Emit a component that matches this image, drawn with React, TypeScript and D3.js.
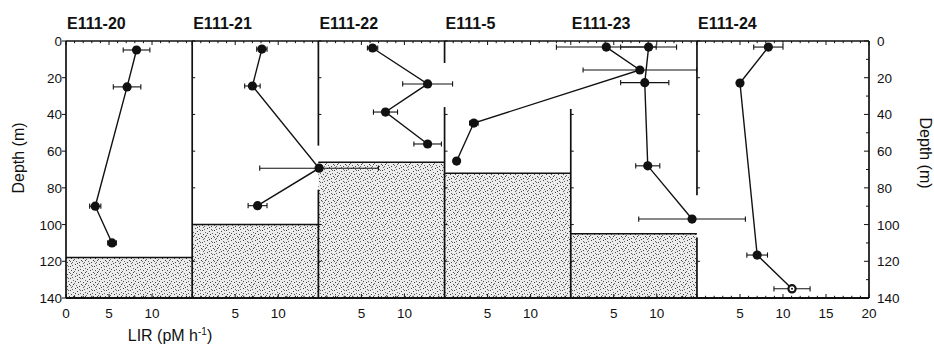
import React from 'react';
import * as d3 from 'd3';

// ---- data ----
const panelNames = ['E111-20', 'E111-21', 'E111-22', 'E111-5', 'E111-23', 'E111-24'];
const panelSpan = [14.67, 14.67, 14.67, 14.67, 14.67, 20]; // LIR units covered by each panel
const sedimentDepth: (number | null)[] = [118, 100, 66, 72, 105, null];
// depth ranges where each panel's left axis line is visible
const axisSegments = [
  [[0, 140]],
  [[0, 140]],
  [[0, 57], [81, 140]],
  [[0, 12], [36, 140]],
  [[37, 140]],
  [[0, 84], [107, 140]],
];
const depthTicks = [0, 20, 40, 60, 80, 100, 120, 140];
const lirTickLabels = [[0, 5, 10], [5, 10], [5, 10], [5, 10], [5, 10], [5, 10, 15, 20]];

const e20Depth = [4.9, 25, 90, 110];
const e20Lir = [8.2, 7.1, 3.4, 5.35];
const e20Err = [1.55, 1.6, 0.65, 0.5];

const e21Depth = [4.4, 24.5, 69.3, 89.7];
const e21Lir = [8.1, 7.0, 14.75, 7.6];
const e21Err = [0.6, 0.9, 6.9, 1.1];

const e22Depth = [3.8, 23.4, 38.7, 56.1];
const e22Lir = [6.3, 12.7, 7.8, 12.7];
const e22Err = [0.6, 2.9, 1.4, 1.6];

const e5Depth = [3.3, 15.8, 44.7, 65.4];
const e5Lir = [18.8, 22.7, 3.4, 1.4];
const e5Err = [5.8, 6.6, 0.5, 0];

const e23Depth = [3.3, 22.7, 68, 97];
const e23Lir = [9.05, 8.6, 8.95, 14.1];
const e23Err = [3.25, 2.8, 1.4, 6.2];

const e24Depth = [3.3, 22.9, 116.6, 135];
const e24Lir = [8.3, 5.0, 7.0, 11.05];
const e24Err = [1.7, 0, 1.2, 2.1];
const e24Open = [false, false, false, true];

const series = [
  { panel: 0, depth: e20Depth, lir: e20Lir, err: e20Err, open: [] as boolean[] },
  { panel: 1, depth: e21Depth, lir: e21Lir, err: e21Err, open: [] as boolean[] },
  { panel: 2, depth: e22Depth, lir: e22Lir, err: e22Err, open: [] as boolean[] },
  { panel: 3, depth: e5Depth, lir: e5Lir, err: e5Err, open: [] as boolean[] },
  { panel: 4, depth: e23Depth, lir: e23Lir, err: e23Err, open: [] as boolean[] },
  { panel: 5, depth: e24Depth, lir: e24Lir, err: e24Err, open: e24Open },
];

const W = 934;
const H = 345;
const FONT = '"Liberation Sans", Arial, Helvetica, sans-serif';

// stipple texture dot positions within a 12x12 tile (decorative)
const stippleDots = [
  [0, 1], [3, 0], [7, 1], [10, 2], [1, 4], [5, 3], [8, 5], [11, 6], [2, 7], [6, 6],
  [4, 9], [9, 8], [0, 10], [7, 10], [11, 11], [3, 5], [10, 9], [5, 11], [8, 2], [1, 8],
];

export default function App() {
  const total = d3.sum(panelSpan);
  const x = d3.scaleLinear().domain([0, total]).range([66, 869]);
  const y = d3.scaleLinear().domain([0, 140]).range([41, 298]);
  const offsets = panelSpan.map((_, i) => d3.sum(panelSpan.slice(0, i)));
  const px = (panel: number, v: number) => x(offsets[panel] + v);

  const line = d3
    .line<[number, number]>()
    .x((d) => d[0])
    .y((d) => d[1]);

  const els: React.ReactNode[] = [];

  // sediment shading
  sedimentDepth.forEach((d, i) => {
    if (d == null) return;
    const x0 = px(i, 0);
    const x1 = px(i, panelSpan[i]);
    els.push(
      <g key={`sed${i}`}>
        <rect x={x0} y={y(d)} width={x1 - x0} height={y(140) - y(d)} fill="url(#stip)" />
        <line x1={x0} x2={x1} y1={y(d)} y2={y(d)} stroke="#111" strokeWidth={1.5} />
      </g>
    );
  });

  // top & bottom minor/major ticks
  panelSpan.forEach((span, i) => {
    for (let v = 0; v <= Math.floor(span); v++) {
      const xx = px(i, v);
      const len = v % 5 === 0 ? 4 : 2.2;
      els.push(
        <line key={`bt${i}-${v}`} x1={xx} x2={xx} y1={y(140)} y2={y(140) - len} stroke="#111" strokeWidth={1} />,
        <line key={`tt${i}-${v}`} x1={xx} x2={xx} y1={y(0)} y2={y(0) + len} stroke="#111" strokeWidth={1} />
      );
    }
    lirTickLabels[i].forEach((v) => {
      els.push(
        <text key={`bl${i}-${v}`} x={px(i, v)} y={318} textAnchor="middle" fontSize={13.5} fontFamily={FONT} fill="#111">
          {v}
        </text>
      );
    });
  });

  // panel left axes
  axisSegments.forEach((segs, i) => {
    const xx = px(i, 0);
    segs.forEach(([a, b], k) => {
      els.push(
        <line key={`ax${i}-${k}`} x1={xx} x2={xx} y1={y(a)} y2={y(b)} stroke="#111" strokeWidth={1.7} />
      );
      depthTicks.forEach((t) => {
        if (t < a || t > b || i === 0) return;
        els.push(
          <line key={`axt${i}-${k}-${t}`} x1={xx} x2={xx + 3} y1={y(t)} y2={y(t)} stroke="#111" strokeWidth={1} />
        );
      });
    });
  });

  // top & bottom frame lines
  els.push(
    <line key="top" x1={x(0)} x2={x(total)} y1={y(0)} y2={y(0)} stroke="#111" strokeWidth={1.5} />,
    <line key="bot" x1={x(0)} x2={x(total)} y1={y(140)} y2={y(140)} stroke="#111" strokeWidth={1.9} />,
    <line key="right" x1={x(total)} x2={x(total)} y1={y(0)} y2={y(140)} stroke="#111" strokeWidth={1.7} />
  );

  // left/right axis ticks & labels
  depthTicks.forEach((t) => {
    els.push(
      <line key={`lt${t}`} x1={x(0) - 4} x2={x(0)} y1={y(t)} y2={y(t)} stroke="#111" strokeWidth={1} />,
      <text key={`ll${t}`} x={62} y={y(t) + 5} textAnchor="end" fontSize={13.5} fontFamily={FONT} fill="#111">
        {t}
      </text>,
      <text key={`rl${t}`} x={877} y={y(t) + 5} textAnchor="start" fontSize={13.5} fontFamily={FONT} fill="#111">
        {t}
      </text>
    );
  });
  for (let t = 0; t <= 140; t += 10) {
    const len = t % 20 === 0 ? 5 : 3;
    els.push(
      <line key={`rt${t}`} x1={x(total) - len} x2={x(total)} y1={y(t)} y2={y(t)} stroke="#111" strokeWidth={1} />
    );
  }

  // series
  series.forEach((s, si) => {
    const pts: [number, number][] = s.depth.map((d, k) => [px(s.panel, s.lir[k]), y(d)]);
    els.push(<path key={`ln${si}`} d={line(pts) || ''} fill="none" stroke="#111" strokeWidth={1.4} />);
    s.depth.forEach((d, k) => {
      const e = s.err[k];
      if (e > 0) {
        const xa = px(s.panel, s.lir[k] - e);
        const xb = px(s.panel, s.lir[k] + e);
        const yy = y(d);
        els.push(
          <g key={`eb${si}-${k}`} stroke="#111" strokeWidth={1.1}>
            <line x1={xa} x2={xb} y1={yy} y2={yy} />
            <line x1={xa} x2={xa} y1={yy - 2.6} y2={yy + 2.6} />
            <line x1={xb} x2={xb} y1={yy - 2.6} y2={yy + 2.6} />
          </g>
        );
      }
    });
    pts.forEach(([cx, cy], k) => {
      if (s.open[k]) {
        els.push(
          <g key={`pt${si}-${k}`}>
            <circle cx={cx} cy={cy} r={3.6} fill="#fff" stroke="#111" strokeWidth={2.2} />
            <circle cx={cx} cy={cy} r={1} fill="#111" />
          </g>
        );
      } else {
        els.push(<circle key={`pt${si}-${k}`} cx={cx} cy={cy} r={4.6} fill="#111" />);
      }
    });
  });

  // titles
  panelNames.forEach((n, i) => {
    els.push(
      <text key={`ti${i}`} x={px(i, 0) + 1} y={29} fontSize={16} fontWeight="bold" fontFamily={FONT} fill="#111">
        {n}
      </text>
    );
  });

  return (
    <svg width={W} height={H} style={{ position: 'absolute', left: 0, top: 0, background: '#fff' }}>
      <defs>
        <pattern id="stip" width={12} height={12} patternUnits="userSpaceOnUse">
          <rect width={12} height={12} fill="#ececec" />
          {stippleDots.map(([dx, dy], k) => (
            <rect key={k} x={dx} y={dy} width={1} height={1} fill={k % 2 === 0 ? '#666' : '#444'} />
          ))}
        </pattern>
      </defs>
      <rect width={W} height={H} fill="#fff" />
      {els}
      <text x={170} y={341} textAnchor="middle" fontSize={16} fontFamily={FONT} fill="#111">
        LIR (pM h
        <tspan dy={-6} fontSize={10}>-1</tspan>
        <tspan dy={6}>)</tspan>
      </text>
      <text transform="translate(24,158) rotate(-90)" textAnchor="middle" fontSize={16} fontFamily={FONT} fill="#111">
        Depth (m)
      </text>
      <text transform="translate(920,153) rotate(90)" textAnchor="middle" fontSize={16} fontFamily={FONT} fill="#111">
        Depth (m)
      </text>
    </svg>
  );
}
